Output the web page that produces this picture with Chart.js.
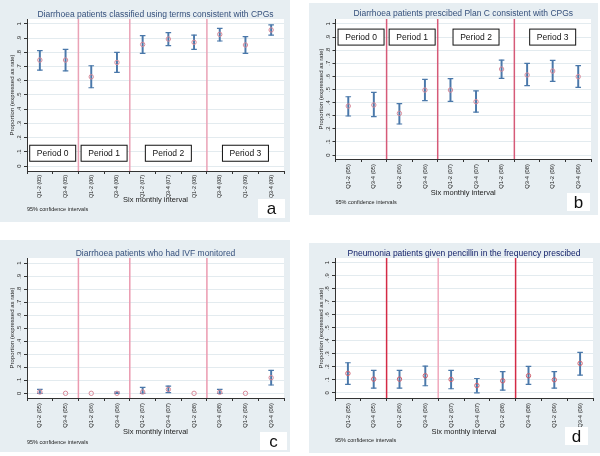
<!DOCTYPE html>
<html>
<head>
<meta charset="utf-8">
<script src="https://cdn.jsdelivr.net/npm/chart.js@4.4.1/dist/chart.umd.min.js"></script>
<style>
body { margin: 0; background: #fff; width: 600px; height: 456px; position: relative; overflow: hidden; }
.panel { position: absolute; background: #e7eef2; }
canvas { display: block; }
</style>
</head>
<body>
<div class="panel" style="left:0;top:0;width:290px;height:222px"><canvas id="chartA" width="290" height="222"></canvas></div>
<div class="panel" style="left:309px;top:3px;width:289px;height:212px"><canvas id="chartB" width="289" height="212"></canvas></div>
<div class="panel" style="left:0;top:240px;width:290px;height:212px"><canvas id="chartC" width="290" height="212"></canvas></div>
<div class="panel" style="left:309px;top:243px;width:291px;height:210px"><canvas id="chartD" width="291" height="210"></canvas></div>
<script>
const intervals = ['Q1-2 (05)', 'Q3-4 (05)', 'Q1-2 (06)', 'Q3-4 (06)', 'Q1-2 (07)',
                   'Q3-4 (07)', 'Q1-2 (08)', 'Q3-4 (08)', 'Q1-2 (09)', 'Q3-4 (09)'];
const periodNames = ['Period 0', 'Period 1', 'Period 2', 'Period 3'];
const periodMembers = [[0, 1], [2, 3], [4, 5, 6], [7, 8, 9]];
const periodBreaks = [1.5, 3.5, 6.5];
const yTickValues = [0, 0.1, 0.2, 0.3, 0.4, 0.5, 0.6, 0.7, 0.8, 0.9, 1];
const yTickLabels = ['0', '.1', '.2', '.3', '.4', '.5', '.6', '.7', '.8', '.9', '1'];

// a: classified using terms consistent with CPGs
const classifiedRate = [0.746, 0.746, 0.628, 0.729, 0.856, 0.894, 0.871, 0.927, 0.852, 0.958];
const classifiedLow  = [0.675, 0.670, 0.551, 0.659, 0.793, 0.847, 0.821, 0.880, 0.793, 0.922];
const classifiedHigh = [0.812, 0.821, 0.706, 0.800, 0.918, 0.939, 0.922, 0.969, 0.911, 0.993];

// b: prescribed Plan C
const planCRate = [0.374, 0.382, 0.318, 0.496, 0.496, 0.407, 0.656, 0.611, 0.641, 0.598];
const planCLow  = [0.298, 0.293, 0.237, 0.415, 0.410, 0.328, 0.585, 0.529, 0.562, 0.517];
const planCHigh = [0.445, 0.478, 0.392, 0.578, 0.583, 0.489, 0.725, 0.700, 0.723, 0.682];

// c: IVF monitored
const ivfRate = [0.010, 0, 0, 0, 0.010, 0.030, 0, 0.008, 0, 0.120];
const ivfLow  = [0, null, null, 0, 0, 0.005, null, 0, null, 0.064];
const ivfHigh = [0.030, null, null, 0.010, 0.046, 0.056, null, 0.030, null, 0.177];

// d: penicillin in the frequency prescribed
const penicillinRate = [0.149, 0.105, 0.105, 0.131, 0.103, 0.056, 0.092, 0.131, 0.100, 0.226];
const penicillinLow  = [0.064, 0.036, 0.036, 0.054, 0.031, 0.000, 0.020, 0.064, 0.036, 0.136];
const penicillinHigh = [0.231, 0.172, 0.172, 0.205, 0.172, 0.110, 0.162, 0.203, 0.162, 0.310];

const FONT = '"Liberation Sans", Arial, sans-serif';
const barColor = '#4a78aa';
const inkColor = '#222';

function drawPanel(id, p) {
  const ranges = intervals.map((_, i) => p.low[i] == null ? null : [p.low[i], p.high[i]]);

  const periodLines = {
    id: 'periodLines',
    beforeDatasetsDraw(chart) {
      const {ctx, chartArea, scales: {x}} = chart;
      ctx.save();
      ctx.lineWidth = 1.5;
      periodBreaks.forEach((b, i) => {
        const px = x.getPixelForValue(b);
        ctx.strokeStyle = p.lineColors[i];
        ctx.beginPath();
        ctx.moveTo(px, chartArea.top);
        ctx.lineTo(px, chartArea.bottom);
        ctx.stroke();
      });
      ctx.restore();
    }
  };

  const periodBoxes = {
    id: 'periodBoxes',
    afterDatasetsDraw(chart) {
      if (p.periodY == null) return;
      const {ctx, scales: {x, y}} = chart;
      ctx.save();
      ctx.font = '8.5px ' + FONT;
      ctx.textAlign = 'center';
      ctx.textBaseline = 'middle';
      periodMembers.forEach((m, i) => {
        const cx = m.reduce((s, k) => s + x.getPixelForValue(k), 0) / m.length;
        const cy = y.getPixelForValue(p.periodY);
        ctx.fillStyle = '#fff';
        ctx.fillRect(cx - 23, cy - 8, 46, 16);
        ctx.strokeStyle = '#111';
        ctx.lineWidth = 1;
        ctx.strokeRect(cx - 23, cy - 8, 46, 16);
        ctx.fillStyle = '#111';
        ctx.fillText(periodNames[i], cx, cy + 0.5);
      });
      ctx.restore();
    }
  };

  const notes = {
    id: 'notes',
    afterDraw(chart) {
      const {ctx, chartArea} = chart;
      ctx.save();
      ctx.font = '5.5px ' + FONT;
      ctx.fillStyle = inkColor;
      ctx.textBaseline = 'middle';
      ctx.fillText('95% confidence intervals', chartArea.left, p.noteY);
      const [tx, ty, tw, th] = p.tag;
      ctx.fillStyle = '#fff';
      ctx.fillRect(tx, ty, tw, th);
      ctx.fillStyle = '#111';
      ctx.font = '17px ' + FONT;
      ctx.textAlign = 'center';
      ctx.fillText(p.letter, tx + tw / 2, ty + th / 2 + 1);
      ctx.restore();
    }
  };

  const plotBg = {
    id: 'plotBg',
    beforeDraw(chart) {
      const {ctx, chartArea: a} = chart;
      ctx.save();
      ctx.fillStyle = '#fff';
      ctx.fillRect(a.left, a.top, a.right - a.left, a.bottom - a.top);
      ctx.restore();
    }
  };

  return new Chart(document.getElementById(id), {
    data: {
      labels: intervals,
      datasets: [
        { type: 'line', data: p.rate, showLine: false, pointStyle: 'circle', pointRadius: 2.2,
          pointBorderWidth: 1, pointBorderColor: p.markColor, pointBackgroundColor: 'rgba(255,255,255,0)', order: 0 },
        { type: 'line', data: p.high, showLine: false, pointStyle: 'line', pointRadius: 2.8,
          pointBorderWidth: 1.2, pointBorderColor: barColor, order: 1 },
        { type: 'line', data: p.low, showLine: false, pointStyle: 'line', pointRadius: 2.8,
          pointBorderWidth: 1.2, pointBorderColor: barColor, order: 1 },
        { type: 'bar', data: ranges, barThickness: 1.3, backgroundColor: barColor, order: 2 }
      ]
    },
    options: {
      responsive: false,
      animation: false,
      events: [],
      layout: { padding: { left: 0, right: p.padRight, top: 0, bottom: p.padBottom } },
      plugins: {
        legend: { display: false },
        tooltip: { enabled: false },
        title: {
          display: true, fullSize: false, text: p.title, color: p.titleColor,
          font: { family: FONT, size: 8.5, weight: 'normal', lineHeight: 1 },
          padding: { top: p.titleTop, bottom: p.titleBottom }
        }
      },
      scales: {
        x: {
          type: 'category',
          offset: true,
          grid: { drawOnChartArea: false, tickLength: 3, tickColor: '#333' },
          border: { color: '#333' },
          ticks: { minRotation: 90, maxRotation: 90, autoSkip: false, padding: p.xTickPad,
                   font: { family: FONT, size: p.xTickSize }, color: inkColor },
          title: { display: true, text: 'Six monthly interval', color: inkColor,
                   font: { family: FONT, size: 7.5, lineHeight: 1 }, padding: 0 },
          afterFit: s => { s.height = p.xHeight; }
        },
        y: {
          min: p.yMin,
          max: p.yMax,
          afterBuildTicks: s => { s.ticks = yTickValues.map(v => ({ value: v })); },
          grid: { color: '#e3ebef', tickLength: 3, tickColor: '#333' },
          border: { color: '#333' },
          ticks: { minRotation: 90, maxRotation: 90, crossAlign: 'center', padding: 2,
                   font: { family: FONT, size: 5.8 }, color: inkColor,
                   callback: (v, i) => yTickLabels[i] },
          title: { display: true, text: 'Proportion (expressed as rate)', color: inkColor,
                   font: { family: FONT, size: 6, lineHeight: 1 }, padding: { top: 9, bottom: 0 } },
          afterFit: s => { s.width = p.yWidth; }
        }
      }
    },
    plugins: [plotBg, periodLines, periodBoxes, notes]
  });
}

drawPanel('chartA', {
  rate: classifiedRate, low: classifiedLow, high: classifiedHigh,
  title: 'Diarrhoea patients classified using terms consistent with CPGs',
  titleColor: '#35507c', titleTop: 10, titleBottom: 0.5,
  yMin: -0.035, yMax: 1.035, yWidth: 27, xHeight: 33, padRight: 6, padBottom: 18,
  xTickSize: 5.4, xTickPad: 1,
  lineColors: ['#eaa2b6', '#eaa2b6', '#eaa2b6'], markColor: '#d88a9a',
  periodY: 0.09, noteY: 209.5, tag: [258, 199, 27, 19], letter: 'a'
});

drawPanel('chartB', {
  rate: planCRate, low: planCLow, high: planCHigh,
  title: 'Diarrhoea patients prescibed Plan C consistent with CPGs',
  titleColor: '#35507c', titleTop: 6, titleBottom: 1.5,
  yMin: -0.03, yMax: 1.038, yWidth: 26.5, xHeight: 38, padRight: 7, padBottom: 18,
  xTickSize: 5.8, xTickPad: 2,
  lineColors: ['#d65a78', '#d65a78', '#d65a78'], markColor: '#d88a9a',
  periodY: 0.9, noteY: 199, tag: [258, 190, 23, 18], letter: 'b'
});

drawPanel('chartC', {
  rate: ivfRate, low: ivfLow, high: ivfHigh,
  title: 'Diarrhoea patients who had IVF monitored',
  titleColor: '#35507c', titleTop: 9, titleBottom: 0.5,
  yMin: -0.036, yMax: 1.04, yWidth: 27, xHeight: 38, padRight: 6, padBottom: 16,
  xTickSize: 5.8, xTickPad: 2,
  lineColors: ['#eb9ab0', '#eb9ab0', '#eb9ab0'], markColor: '#d88a9a',
  periodY: null, noteY: 202, tag: [260, 192, 27, 18], letter: 'c'
});

drawPanel('chartD', {
  rate: penicillinRate, low: penicillinLow, high: penicillinHigh,
  title: 'Pneumonia patients given pencillin in the frequency prescibed',
  titleColor: '#14226a', titleTop: 6, titleBottom: 0.5,
  yMin: -0.04, yMax: 1.036, yWidth: 26, xHeight: 37.5, padRight: 7, padBottom: 17.5,
  xTickSize: 5.8, xTickPad: 2,
  lineColors: ['#d42a45', '#f0a8bc', '#d42a45'], markColor: '#d0606e',
  periodY: null, noteY: 197.7, tag: [256, 184, 23, 18], letter: 'd'
});
</script>
</body>
</html>
